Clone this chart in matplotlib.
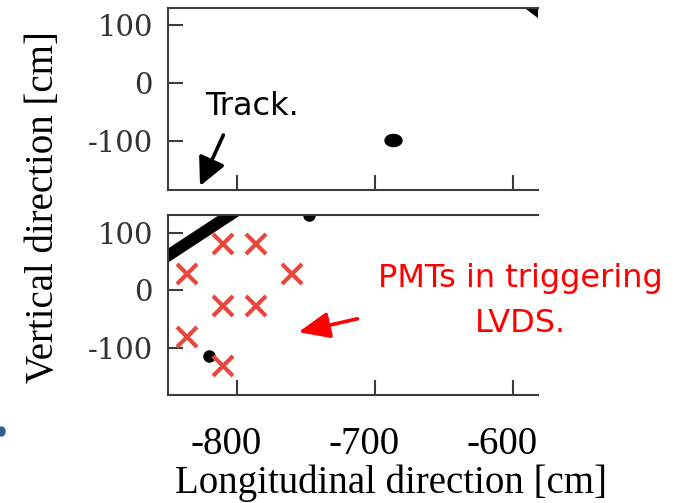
import numpy as np
import matplotlib
matplotlib.use('Agg')
import matplotlib.pyplot as plt
from matplotlib.path import Path
from matplotlib.patches import Ellipse
from matplotlib.transforms import ScaledTranslation

# ---------------- data ----------------
xticks = [-800, -700, -600]
xtick_labels = ['-800', '-700', '-600']
yticks = [100, 0, -100]
ytick_labels = ['100', '0', '-100']

top_track_x = [-600, -570]
top_track_y = [157, 103]
top_hit_x = [-687]
top_hit_y = [-98]

bot_track_x = [-870, -780]
bot_track_y = [29, 170]
bot_hit_x = [-820, -748]
bot_hit_y = [-114, 131]

pmt_x = [-810, -786, -836, -760, -810, -786, -836, -810]
pmt_y = [81, 81, 29, 29, -26, -26, -80, -131]

xlim = (-850, -582)
ylim_top = (-184.5, 129.3)
ylim_bot = (-180.8, 130.6)

# ---------------- figure ----------------
W, H = 691, 503
fig = plt.figure(figsize=(W / 100, H / 100), dpi=100)


def fx(px):
    return px / W


def fy(py):
    return 1 - py / H


ax_top = fig.add_axes([fx(168), fy(190), fx(538) - fx(168), fy(8) - fy(190)])
ax_bot = fig.add_axes([fx(168), fy(395), fx(538) - fx(168), fy(215) - fy(395)])

spine_col = '#3c3c3c'
for ax, yl in ((ax_top, ylim_top), (ax_bot, ylim_bot)):
    ax.set_xlim(*xlim)
    ax.set_ylim(*yl)
    ax.spines['right'].set_visible(False)
    for s in ('left', 'top', 'bottom'):
        ax.spines[s].set_linewidth(1.5)
        ax.spines[s].set_color(spine_col)
    ax.set_xticks(xticks)
    ax.set_yticks(yticks)
    ax.set_yticklabels(ytick_labels, fontfamily='DejaVu Serif', fontsize=21,
                       color='#333333')
    ax.tick_params(direction='in', length=11, width=1.5, colors=spine_col,
                   top=False, right=False)
    ax.tick_params(axis='y', pad=11, labelcolor='#333333')

ax_top.set_xticklabels([])
ax_bot.set_xticklabels(xtick_labels, fontfamily='Liberation Serif', fontsize=28)
ax_bot.tick_params(axis='x', pad=22.6, labelcolor='black')
for lbl in ax_bot.get_xticklabels():
    lbl.set_transform(lbl.get_transform() +
                      ScaledTranslation(-11 / 100, 0, fig.dpi_scale_trans))

# ellipse marker for the top-panel hit
t = np.linspace(0, 2 * np.pi, 61)
ell = Path(np.column_stack([1.4 * np.cos(t), np.sin(t)]), closed=True)

# ---------------- marks ----------------
ax_top.plot(top_track_x, top_track_y, color='black', lw=8.5,
            solid_capstyle='butt')
ax_top.plot(top_hit_x, top_hit_y, linestyle='none', marker=ell,
            markersize=12.2, color='black')

ax_bot.plot(bot_track_x, bot_track_y, color='black', lw=8.5,
            solid_capstyle='butt')
ax_bot.plot(bot_hit_x, bot_hit_y, linestyle='none', marker='o',
            markersize=8, color='black')
ax_bot.plot(pmt_x, pmt_y, linestyle='none', marker='x', markersize=14,
            markeredgewidth=3.0, color='#e8473d')

# ---------------- labels ----------------
ax_bot.set_xlabel('Longitudinal direction [cm]', fontfamily='Liberation Serif',
                  fontsize=28)
ax_bot.xaxis.set_label_coords((390.8 - 168) / 370, (395 - 493.3) / 180)
ax_bot.xaxis.label.set_va('baseline')
ax_bot.xaxis.label.set_ha('center')

fig.text(fx(44), fy(207), 'Vertical direction [cm]', rotation=90,
         ha='center', va='center', fontfamily='Liberation Serif', fontsize=28)

# ---------------- annotations ----------------
fig.text(fx(205), fy(115), 'Track.', ha='left', va='baseline',
         fontfamily='DejaVu Sans', fontsize=23, color='black')
ax_top.annotate('', xy=(-826.8, -177.6), xytext=(-809.9, -89.7),
                arrowprops=dict(arrowstyle='-|>,head_length=0.85,head_width=0.42',
                                lw=2.6, color='black', shrinkA=0, shrinkB=0,
                                mutation_scale=20),
                annotation_clip=False)

fig.text(fx(520), fy(286.7), 'PMTs in triggering', ha='center', va='baseline',
         fontfamily='DejaVu Sans', fontsize=23, color='#ff0000')
fig.text(fx(520.5), fy(331.7), 'LVDS.', ha='center', va='baseline',
         fontfamily='DejaVu Sans', fontsize=23, color='#ff0000')
ax_bot.annotate('', xy=(-755.6, -72.1), xytext=(-712.8, -49),
                arrowprops=dict(arrowstyle='-|>,head_length=0.95,head_width=0.4',
                                lw=2.6, color='#ff0000', shrinkA=0, shrinkB=0,
                                mutation_scale=20),
                annotation_clip=False)

# stray bullet fragment at the left edge
fig.add_artist(Ellipse((fx(1.5), fy(431.5)), 7 / W, 9 / H,
                       transform=fig.transFigure, color='#2e5f93'))

fig.savefig('out.png', dpi=100)
